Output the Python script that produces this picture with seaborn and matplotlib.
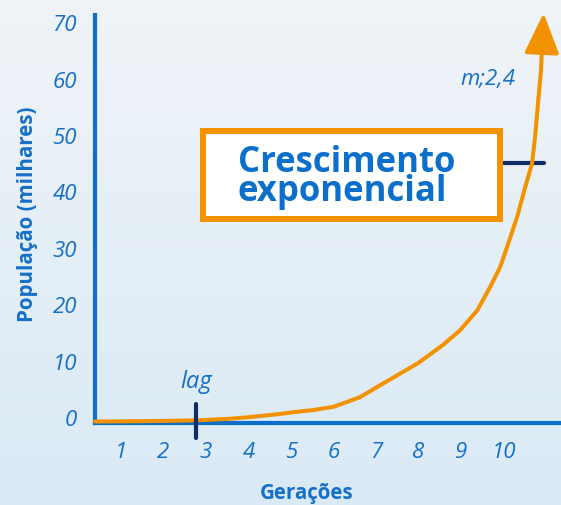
import numpy as np
import pandas as pd
import matplotlib
matplotlib.use('Agg')
import matplotlib.pyplot as plt
from matplotlib.patches import Rectangle, FancyArrowPatch
from matplotlib.transforms import ScaledTranslation
import seaborn as sns

# values
geracoes = [0.39, 1.0, 2.0, 2.76, 3.5, 4.0, 4.74, 5.0, 5.5, 6.0, 6.62, 7.09,
            7.5, 8.0, 8.58, 8.98, 9.38, 9.68, 9.92, 10.08, 10.32, 10.51,
            10.67, 10.74, 10.81, 10.88]
populacao = [0.0, 0.02, 0.1, 0.2, 0.45, 0.75, 1.33, 1.6, 2.0, 2.6, 4.3, 6.4,
             8.2, 10.4, 13.6, 16.2, 19.7, 23.8, 27.4, 30.9, 36.3, 41.6,
             45.8, 50.4, 56.5, 62.3]
x_ticks = [1, 2, 3, 4, 5, 6, 7, 8, 9, 10]
y_ticks = [0, 10, 20, 30, 40, 50, 60, 70]
ponta_seta = (10.94, 72.4)
lag_x = 2.76
m_y = 45.8

df = pd.DataFrame({'Gerações': geracoes, 'População': populacao})

BLUE = '#0b6fcb'
TXT = '#1670c8'
ORANGE = '#f39200'
NAVY = '#0f2d66'

sns.set_style('white')
plt.rcParams['font.family'] = ['Open Sans', 'DejaVu Sans']

fig = plt.figure(figsize=(5.61, 5.05), dpi=100)

# gradient background
bg = fig.add_axes([0, 0, 1, 1], zorder=-10)
grad = np.linspace(0, 1, 256).reshape(-1, 1)
top = np.array([0.94, 0.955, 0.972])
bot = np.array([0.855, 0.918, 0.960])
img = top + (bot - top) * grad[..., None]
bg.imshow(img, aspect='auto', extent=[0, 1, 0, 1])
bg.set_axis_off()

ax = fig.add_axes([95 / 561, (505 - 423) / 505, 466 / 561, 408 / 505])
ax.patch.set_alpha(0)

sns.lineplot(data=df, x='Gerações', y='População', ax=ax, color=ORANGE,
             linewidth=2.9, zorder=4, clip_on=False,
             solid_joinstyle='round', solid_capstyle='round')

arr = FancyArrowPatch((geracoes[-1], populacao[-1]), ponta_seta,
                      arrowstyle='-|>,head_length=1.25,head_width=0.54',
                      mutation_scale=20, color=ORANGE, lw=2.9,
                      clip_on=False, zorder=4, shrinkA=0, shrinkB=0)
ax.add_patch(arr)

ax.set_xlim(0.39, 11.35)
ax.set_ylim(-0.27, 72.07)

for s in ['top', 'right']:
    ax.spines[s].set_visible(False)
for s in ['left', 'bottom']:
    ax.spines[s].set_color(BLUE)
    ax.spines[s].set_linewidth(3)
    ax.spines[s].set_zorder(3)

ax.set_xticks(x_ticks)
ax.set_yticks(y_ticks)
ax.tick_params(length=0, labelsize=16, labelcolor=TXT)
ax.tick_params(axis='x', pad=14)
ax.tick_params(axis='y', pad=13)
for lab in ax.get_xticklabels() + ax.get_yticklabels():
    lab.set_fontstyle('italic')
for lab in ax.get_yticklabels():
    lab.set_transform(lab.get_transform() + ScaledTranslation(0, 3.5 / 100, fig.dpi_scale_trans))

ax.set_xlabel('Gerações', fontsize=14.8, fontweight='bold', color=TXT)
ax.set_ylabel('População (milhares)', fontsize=14.8, fontweight='bold', color=TXT)
ax.xaxis.set_label_coords(0.455, -0.148)
ax.yaxis.set_label_coords(-0.122, 0.512)

# lag marker
ax.plot([lag_x, lag_x], [3.1, -2.9], color=NAVY, lw=3, clip_on=False, zorder=5)
ax.text(2.78, 7.0, 'lag', fontsize=17, style='italic', color=TXT,
        ha='center', va='center')

# m marker
ax.plot([10.01, 10.95], [m_y, m_y], color=NAVY, lw=3, clip_on=False, zorder=2)
ax.text(9.63, 60.6, 'm;2,4', fontsize=16, style='italic', color=TXT,
        ha='center', va='center')

# box
ax.add_patch(Rectangle((2.93, 35.9), 9.92 - 2.93, 51.5 - 35.9,
                       facecolor='white', edgecolor=ORANGE, lw=4.3, zorder=3))
ax.text(3.75, 44.2, 'Crescimento', fontsize=25, fontweight='bold', color=BLUE,
        ha='left', va='baseline', zorder=6)
ax.text(3.75, 39.1, 'exponencial', fontsize=25, fontweight='bold', color=BLUE,
        ha='left', va='baseline', zorder=6)

fig.savefig('out.png', dpi=100)
